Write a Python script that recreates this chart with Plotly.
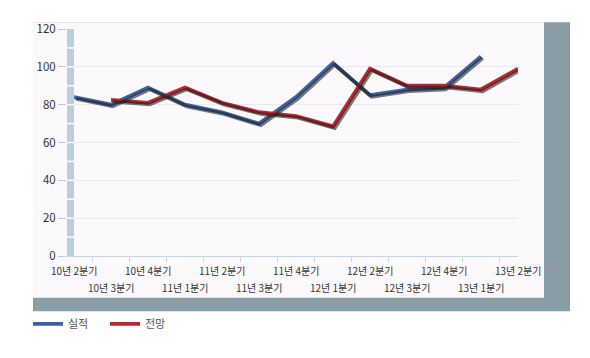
import plotly.graph_objects as go

categories = ["10년 2분기", "10년 3분기", "10년 4분기", "11년 1분기", "11년 2분기", "11년 3분기",
              "11년 4분기", "12년 1분기", "12년 2분기", "12년 3분기", "12년 4분기", "13년 1분기", "13년 2분기"]
actual = [84, 80, 89, 80, 76, 70, 84, 102, 85, 88, 89, 105.5, None]
forecast = [None, 82.5, 81, 89, 81, 76, 74, 68.5, 99, 90, 90, 88, 99]
y_ticks = [0, 20, 40, 60, 80, 100, 120]

series = [("실적", actual, "#3d61a0"), ("전망", forecast, "#b9282f")]

xpos = list(range(len(categories)))
FONT = "Noto Sans CJK KR"

# page body margin offset (8px) compensation
OFF = 8
W, H = 590 - OFF, 358 - OFF
L, T = 67 - OFF, 22 - OFF
pw, ph = 451, 234
R, B = W - L - pw, H - T - ph
xr = [-0.19, 12.0]
yr = [0, 120]

def px_x(p):
    return (p - OFF - L) / pw

def px_y(p):
    return (H - B - (p - OFF)) / ph

# shadow axes: same scales, shifted by a pixel or two
shift = 1.8
dx = (xr[1] - xr[0]) / pw * shift
dy = (yr[1] - yr[0]) / ph * shift
xr3 = [xr[0] - dx, xr[1] - dx]
yr3 = [yr[0] + dy, yr[1] + dy]

fig = go.Figure()

for name, vals, col in series:
    fig.add_trace(go.Scatter(x=xpos, y=vals, mode="lines", showlegend=False, hoverinfo="skip",
                             line=dict(color="rgba(30,30,30,0.6)", width=3.6),
                             xaxis="x3", yaxis="y3", connectgaps=False))
for name, vals, col in series:
    fig.add_trace(go.Scatter(x=xpos, y=vals, mode="lines", name=name,
                             line=dict(color=col, width=3.8), connectgaps=False))
fig.add_trace(go.Scatter(x=[None], y=[None], xaxis="x2", showlegend=False))

shapes = [
    dict(type="rect", xref="paper", yref="paper", x0=px_x(33), x1=px_x(570), y0=px_y(313), y1=px_y(15),
         fillcolor="#8a9ca6", line=dict(width=0), layer="below"),
    dict(type="rect", xref="paper", yref="paper", x0=px_x(33), x1=px_x(544), y0=px_y(299), y1=px_y(15),
         fillcolor="#fbf9fb", line=dict(width=0), layer="below"),
    dict(type="rect", xref="x", yref="y", x0=xr[0], x1=0, y0=0, y1=120,
         fillcolor="#bccddd", line=dict(width=0), layer="above"),
]
for v in range(10, 120, 10):
    shapes.append(dict(type="line", xref="x", yref="y", x0=xr[0], x1=0, y0=v, y1=v,
                       line=dict(color="white", width=1.5), layer="above"))

annotations = []
for i, c in enumerate(categories):
    annotations.append(dict(x=i, y=px_y(271 if i % 2 == 0 else 288), xref="x", yref="paper",
                            text=c, showarrow=False, xanchor="center", yanchor="middle",
                            font=dict(family=FONT, size=10, color="#333333")))

fig.update_layout(
    width=W, height=H,
    margin=dict(l=L, r=R, t=T, b=B),
    paper_bgcolor="white", plot_bgcolor="rgba(0,0,0,0)",
    font=dict(family=FONT, size=10, color="#333333"),
    xaxis=dict(range=xr, showgrid=False, zeroline=False, showline=True, linecolor="#c8d4df",
               linewidth=1, showticklabels=False, ticks=""),
    xaxis2=dict(range=xr, overlaying="x", side="bottom", showgrid=False, zeroline=False,
                tickvals=[i + 0.5 for i in range(len(categories) - 1)], ticks="outside",
                ticklen=5, tickcolor="#c8d4df", showticklabels=False),
    xaxis3=dict(range=xr3, overlaying="x", anchor="y3", visible=False),
    yaxis=dict(range=yr, tickvals=y_ticks, showgrid=True, gridcolor="#ebe9ee", gridwidth=1,
               zeroline=False, ticks="outside", ticklen=8, tickcolor="#c0c8d0",
               tickfont=dict(family=FONT, size=11.5, color="#333333")),
    yaxis3=dict(range=yr3, overlaying="y", anchor="x3", visible=False),
    showlegend=True,
    legend=dict(orientation="h", x=px_x(28), y=px_y(326), xanchor="left", yanchor="middle",
                font=dict(family=FONT, size=11, color="#555555"), bgcolor="rgba(0,0,0,0)",
                itemwidth=30, tracegroupgap=0, entrywidth=32, entrywidthmode="pixels"),
    shapes=shapes,
    annotations=annotations,
)

fig.write_html("out.html")
